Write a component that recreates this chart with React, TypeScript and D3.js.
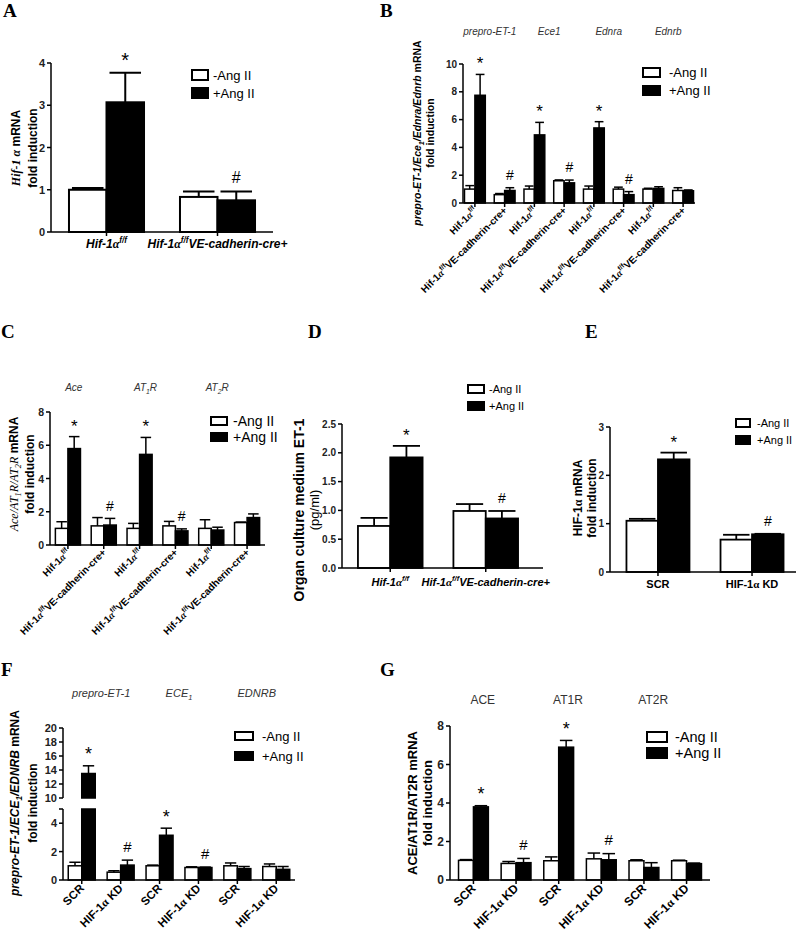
import React from 'react';
import * as d3 from 'd3';

const SANS = '"Liberation Sans", Arial, Helvetica, sans-serif';
const SERIF = '"Liberation Serif", "Times New Roman", serif';

// ---------- data ----------
const legendLabels = ['-Ang II', '+Ang II'];

// A: Hif-1α mRNA
const aGroups = ['ff', 'cre'];
const aControl = [1.0, 0.83];
const aControlErr = [0.04, 0.13];
const aAngII = [3.07, 0.75];
const aAngIIErr = [0.7, 0.21];
const aTicks = [0, 1, 2, 3, 4];
const aStars = [0];
const aHashes = [1];

// B: endothelin system genes
const bGroups = ['ff', 'cre', 'ff', 'cre', 'ff', 'cre', 'ff', 'cre'];
const bGenes = ['prepro-ET-1', 'Ece1', 'Ednra', 'Ednrb'];
const bControl = [1.0, 0.6, 1.0, 1.6, 1.0, 1.0, 1.0, 0.9];
const bControlErr = [0.25, 0.08, 0.22, 0.06, 0.22, 0.14, 0.06, 0.2];
const bAngII = [7.75, 0.9, 4.9, 1.45, 5.4, 0.6, 1.05, 0.88];
const bAngIIErr = [1.5, 0.2, 0.9, 0.2, 0.45, 0.22, 0.12, 0.06];
const bTicks = [0, 2, 4, 6, 8, 10];
const bStars = [0, 2, 4];
const bHashes = [1, 3, 5];

// C: renin-angiotensin genes
const cGroups = ['ff', 'cre', 'ff', 'cre', 'ff', 'cre'];
const cGenes = ['Ace', 'AT1R', 'AT2R'];
const cControl = [1.0, 1.15, 1.0, 1.15, 1.0, 1.35];
const cControlErr = [0.4, 0.5, 0.3, 0.27, 0.52, 0.03];
const cAngII = [5.8, 1.2, 5.45, 0.85, 0.9, 1.65];
const cAngIIErr = [0.72, 0.4, 1.02, 0.12, 0.17, 0.22];
const cTicks = [0, 2, 4, 6, 8];
const cStars = [0, 2];
const cHashes = [1, 3];

// D: organ culture ET-1
const dGroups = ['ff', 'cre'];
const dControl = [0.73, 0.99];
const dControlErr = [0.14, 0.12];
const dAngII = [1.92, 0.86];
const dAngIIErr = [0.2, 0.13];
const dTicks = [0, 0.5, 1, 1.5, 2, 2.5];
const dStars = [0];
const dHashes = [1];

// E: HIF-1α knockdown
const eGroups = ['SCR', 'KD'];
const eControl = [1.06, 0.67];
const eControlErr = [0.04, 0.1];
const eAngII = [2.33, 0.78];
const eAngIIErr = [0.14, 0.01];
const eTicks = [0, 1, 2, 3];
const eStars = [0];
const eHashes = [1];

// F: knockdown, endothelin genes (broken axis)
const fGroups = ['SCR', 'KD', 'SCR', 'KD', 'SCR', 'KD'];
const fGenes = ['prepro-ET-1', 'ECE1', 'EDNRB'];
const fControl = [1.0, 0.55, 1.0, 0.88, 1.0, 0.95];
const fControlErr = [0.25, 0.1, 0.05, 0.05, 0.2, 0.18];
const fAngII = [13.5, 1.05, 3.15, 0.88, 0.8, 0.75];
const fAngIIErr = [1.1, 0.35, 0.5, 0.03, 0.15, 0.2];
const fTicksLow = [0, 2, 4];
const fTicksHigh = [10, 12, 14, 16, 18, 20];
const fStars = [0, 2];
const fHashes = [1, 3];

// G: knockdown, RAS genes
const gGroups = ['SCR', 'KD', 'SCR', 'KD', 'SCR', 'KD'];
const gGenes = ['ACE', 'AT1R', 'AT2R'];
const gControl = [1.02, 0.86, 1.0, 1.1, 1.0, 1.0];
const gControlErr = [0.04, 0.1, 0.2, 0.3, 0.05, 0.03];
const gAngII = [3.8, 0.9, 6.9, 1.05, 0.65, 0.85];
const gAngIIErr = [0.06, 0.22, 0.35, 0.32, 0.25, 0.03];
const gTicks = [0, 2, 4, 6, 8];
const gStars = [0, 2];
const gHashes = [1, 3];

// ---------- text helpers ----------
type Seg = { t: string; it?: boolean; serif?: boolean; sup?: boolean; sub?: boolean; light?: boolean };

function Rich({ segs, size }: { segs: Seg[]; size: number }) {
  let shift = 0;
  return (
    <>
      {segs.map((s, i) => {
        const target = s.sup ? -size * 0.42 : s.sub ? size * 0.25 : 0;
        const dy = target - shift;
        shift = target;
        return (
          <tspan
            key={i}
            dy={dy}
            fontSize={s.sup || s.sub ? size * 0.68 : size}
            fontStyle={s.it ? 'italic' : 'normal'}
            fontWeight={s.light ? 'normal' : 'bold'}
            fontFamily={s.serif ? SERIF : SANS}
          >
            {s.t}
          </tspan>
        );
      })}
    </>
  );
}

function catSegs(key: string, it: boolean): Seg[] {
  const hif: Seg[] = [{ t: 'Hif-1', it }, { t: 'α', it: true, serif: true }, { t: 'f/f', it, sup: true }];
  if (key === 'ff') return hif;
  if (key === 'cre') return [...hif, { t: 'VE-cadherin-cre+', it }];
  if (key === 'KD') return [{ t: 'HIF-1' }, { t: 'α', serif: true }, { t: ' KD' }];
  return [{ t: key }];
}

// digits following a letter become subscripts when sub = true
function geneSegs(name: string, sub: boolean, it: boolean): Seg[] {
  if (!sub) return [{ t: name, it, light: true }];
  return name.split(/(?<=[A-Za-z])(\d)/).filter(s => s !== '').map((t, i, arr) => ({
    t, it, light: true, sub: /^\d$/.test(t) && i > 0 && /[A-Za-z]$/.test(arr[i - 1]),
  }));
}

function YLabel({ x, y, segs, size }: { x: number; y: number; segs: Seg[]; size: number }) {
  return (
    <text transform={`translate(${x},${y}) rotate(-90)`} textAnchor="middle">
      <Rich segs={segs} size={size} />
    </text>
  );
}

function Letter({ x, y, t }: { x: number; y: number; t: string }) {
  return <text x={x} y={y} fontFamily={SERIF} fontWeight="bold" fontSize={19}>{t}</text>;
}

function Legend({ x, y, w, h, gap, size, tx }: { x: number; y: number; w: number; h: number; gap: number; size: number; tx: number }) {
  return (
    <g fontFamily={SANS} fontSize={size}>
      <rect x={x} y={y} width={w} height={h} fill="white" stroke="black" strokeWidth={2} />
      <rect x={x} y={y + gap} width={w} height={h} fill="black" stroke="black" strokeWidth={2} />
      <text x={tx} y={y + h / 2} dominantBaseline="central">{legendLabels[0]}</text>
      <text x={tx} y={y + gap + h / 2} dominantBaseline="central">{legendLabels[1]}</text>
    </g>
  );
}

// ---------- bar panel ----------
interface Axis { domain: [number, number]; range: [number, number]; ticks: number[] }

interface PanelProps {
  groups: string[];
  control: number[]; controlErr: number[];
  angII: number[]; angIIErr: number[];
  stars: number[]; hashes: number[];
  axes: Axis[];
  fmt?: (v: number) => string;
  xRange: [number, number];
  axisEnd?: number;
  padIn: number; padOut: number;
  sw: number; tickFont: number; starSize: number; hashSize: number;
  xLabel: (key: string, cx: number) => React.ReactNode;
  genes?: string[]; geneY?: number; geneDx?: number; geneSize?: number; geneSub?: boolean; geneIt?: boolean;
}

function BarPanel(p: PanelProps) {
  const x = d3.scaleBand<number>()
    .domain(d3.range(p.groups.length))
    .range(p.xRange)
    .paddingInner(p.padIn)
    .paddingOuter(p.padOut);
  const bw = x.bandwidth() / 2;
  const ys = p.axes.map(a => d3.scaleLinear().domain(a.domain).range(a.range));
  const x0 = p.xRange[0];
  const yBase = p.axes[0].range[0];
  const fmt = p.fmt ?? d3.format('d');
  const segFor = (v: number) => {
    const k = p.axes.findIndex(a => v >= a.domain[0] && v <= a.domain[1]);
    return k < 0 ? 0 : k;
  };
  const yOf = (v: number) => ys[segFor(v)](v);
  const series = [
    { vals: p.control, errs: p.controlErr, fill: 'white', off: 0 },
    { vals: p.angII, errs: p.angIIErr, fill: 'black', off: bw },
  ];
  const blackX = (i: number) => x(i)! + bw * 1.5;

  return (
    <g>
      {/* bars */}
      {series.map((s, si) => s.vals.map((v, i) => (
        <g key={`b${si}-${i}`}>
          {p.axes.map((a, k) => {
            if (v <= a.domain[0]) return null;
            const top = Math.min(v, a.domain[1]);
            return (
              <rect key={k} x={x(i)! + s.off} y={ys[k](top)} width={bw} height={ys[k](a.domain[0]) - ys[k](top)}
                fill={s.fill} stroke="black" strokeWidth={p.sw} />
            );
          })}
        </g>
      )))}
      {/* error bars */}
      {series.map((s, si) => s.vals.map((v, i) => {
        const cx = x(i)! + s.off + bw / 2;
        const e = s.errs[i];
        const cap = bw * 0.42;
        return (
          <g key={`e${si}-${i}`} stroke="black" strokeWidth={p.sw}>
            <line x1={cx} x2={cx} y1={yOf(v)} y2={yOf(v + e)} />
            <line x1={cx - cap} x2={cx + cap} y1={yOf(v + e)} y2={yOf(v + e)} />
          </g>
        );
      }))}
      {/* significance marks */}
      {p.stars.map(i => (
        <text key={`s${i}`} x={blackX(i)} y={yOf(p.angII[i] + p.angIIErr[i]) - p.starSize * 0.3}
          textAnchor="middle" fontFamily={SANS} fontSize={p.starSize}>*</text>
      ))}
      {p.hashes.map(i => (
        <text key={`h${i}`} x={blackX(i)} y={yOf(p.angII[i] + p.angIIErr[i]) - p.hashSize * 0.55}
          textAnchor="middle" fontFamily={SANS} fontSize={p.hashSize}>#</text>
      ))}
      {/* y axis */}
      {p.axes.map((a, k) => (
        <g key={`ax${k}`} stroke="black" strokeWidth={1.5}>
          <line x1={x0} x2={x0} y1={a.range[0]} y2={a.range[1]} />
          {a.ticks.map(t => <line key={t} x1={x0 - 4} x2={x0} y1={ys[k](t)} y2={ys[k](t)} />)}
          {k < p.axes.length - 1 && <line x1={x0 - 4} x2={x0} y1={a.range[1]} y2={a.range[1]} />}
          {a.ticks.map(t => (
            <text key={`l${t}`} x={x0 - 6} y={ys[k](t)} textAnchor="end" dominantBaseline="central" stroke="none"
              fontFamily={SANS} fontWeight="bold" fontSize={p.tickFont} fill="#222">{fmt(t)}</text>
          ))}
        </g>
      ))}
      {/* x axis */}
      <line x1={x0} x2={p.axisEnd ?? p.xRange[1]} y1={yBase} y2={yBase} stroke="black" strokeWidth={1.5} />
      {p.groups.map((g, i) => {
        const cx = x(i)! + bw;
        return (
          <g key={`x${i}`}>
            <line x1={cx} x2={cx} y1={yBase} y2={yBase + 4} stroke="black" strokeWidth={1.5} />
            {p.xLabel(g, cx)}
          </g>
        );
      })}
      {/* gene headers */}
      {p.genes && p.genes.map((g, k) => {
        const cx = (x(2 * k)! + x(2 * k + 1)! + 2 * bw) / 2 + (p.geneDx ?? 0);
        return (
          <text key={`g${k}`} x={cx} y={p.geneY} textAnchor="middle" fill="#333">
            <Rich segs={geneSegs(g, !!p.geneSub, !!p.geneIt)} size={p.geneSize ?? 10} />
          </text>
        );
      })}
    </g>
  );
}

const rotLabel = (y: number, size: number, it: boolean) => (key: string, cx: number) => (
  <text transform={`translate(${cx + 3},${y}) rotate(-45)`} textAnchor="end">
    <Rich segs={catSegs(key, it)} size={size} />
  </text>
);

const flatLabel = (y: number, size: number, it: boolean) => (key: string, cx: number) => (
  <text x={cx} y={y} textAnchor="middle">
    <Rich segs={catSegs(key, it)} size={size} />
  </text>
);

export default function App() {
  return (
    <svg width={800} height={936} viewBox="0 0 800 936"
      style={{ position: 'absolute', left: 0, top: 0, background: 'white' }}>
      <rect width={800} height={936} fill="white" />

      {/* ---- A ---- */}
      <Letter x={3} y={17} t="A" />
      <BarPanel groups={aGroups} control={aControl} controlErr={aControlErr} angII={aAngII} angIIErr={aAngIIErr}
        stars={aStars} hashes={aHashes}
        axes={[{ domain: [0, 4], range: [232, 63], ticks: aTicks }]}
        xRange={[51, 273]} padIn={0.324} padOut={0.162} sw={2} tickFont={11} starSize={20} hashSize={16}
        xLabel={flatLabel(248, 12, true)} />
      <YLabel x={20} y={148} size={12} segs={[{ t: 'Hif-1 α', it: true, serif: true }, { t: ' mRNA' }]} />
      <YLabel x={37} y={148} size={12} segs={[{ t: 'fold induction' }]} />
      <Legend x={192} y={70} w={16} h={10} gap={18} size={13} tx={213} />

      {/* ---- B ---- */}
      <Letter x={380} y={17} t="B" />
      <BarPanel groups={bGroups} control={bControl} controlErr={bControlErr} angII={bAngII} angIIErr={bAngIIErr}
        stars={bStars} hashes={bHashes}
        axes={[{ domain: [0, 10], range: [203, 64], ticks: bTicks }]}
        xRange={[463, 695]} padIn={0.3} padOut={0.05} sw={1.5} tickFont={10} starSize={17} hashSize={14}
        xLabel={rotLabel(211, 10, false)}
        genes={bGenes} geneY={35} geneSize={10} geneIt />
      <YLabel x={421} y={133} size={10.5}
        segs={[{ t: 'prepro-ET-1/Ece', it: true }, { t: '1', it: true, sub: true }, { t: '/Ednra/Ednrb', it: true }, { t: ' mRNA' }]} />
      <YLabel x={434} y={133} size={10.5} segs={[{ t: 'fold induction' }]} />
      <Legend x={643} y={68} w={17} h={9} gap={18} size={13} tx={669} />

      {/* ---- C ---- */}
      <Letter x={1} y={338} t="C" />
      <BarPanel groups={cGroups} control={cControl} controlErr={cControlErr} angII={cAngII} angIIErr={cAngIIErr}
        stars={cStars} hashes={cHashes}
        axes={[{ domain: [0, 8], range: [545, 412], ticks: cTicks }]}
        xRange={[50, 265]} padIn={0.3} padOut={0.15} sw={1.5} tickFont={10.5} starSize={17} hashSize={14}
        xLabel={rotLabel(553, 10, false)}
        genes={cGenes} geneY={391} geneDx={-12} geneSize={10} geneSub geneIt />
      <YLabel x={18} y={474} size={12}
        segs={[{ t: 'Ace/AT', it: true, serif: true, light: true }, { t: '1', it: true, serif: true, light: true, sub: true },
          { t: 'R/AT', it: true, serif: true, light: true }, { t: '2', it: true, serif: true, light: true, sub: true },
          { t: 'R', it: true, serif: true, light: true }, { t: ' mRNA' }]} />
      <YLabel x={34} y={474} size={12} segs={[{ t: 'fold induction' }]} />
      <Legend x={211} y={417} w={16} h={8} gap={16} size={14} tx={233} />

      {/* ---- D ---- */}
      <Letter x={308} y={338} t="D" />
      <BarPanel groups={dGroups} control={dControl} controlErr={dControlErr} angII={dAngII} angIIErr={dAngIIErr}
        stars={dStars} hashes={dHashes}
        axes={[{ domain: [0, 2.5], range: [568, 424], ticks: dTicks }]}
        fmt={d3.format('.1f')}
        xRange={[342, 534]} axisEnd={543} padIn={0.323} padOut={0.167} sw={1.8} tickFont={10} starSize={17} hashSize={14}
        xLabel={flatLabel(586, 11, true)} />
      <YLabel x={304} y={510} size={14} segs={[{ t: 'Organ culture medium ET-1' }]} />
      <YLabel x={319} y={510} size={13} segs={[{ t: '(pg/ml)', light: true }]} />
      <Legend x={468} y={385} w={16} h={8} gap={17} size={11} tx={489} />

      {/* ---- E ---- */}
      <Letter x={585} y={338} t="E" />
      <BarPanel groups={eGroups} control={eControl} controlErr={eControlErr} angII={eAngII} angIIErr={eAngIIErr}
        stars={eStars} hashes={eHashes}
        axes={[{ domain: [0, 3], range: [572, 427], ticks: eTicks }]}
        xRange={[610, 800]} axisEnd={796} padIn={0.33} padOut={0.175} sw={1.8} tickFont={10} starSize={17} hashSize={14}
        xLabel={flatLabel(588, 11, false)} />
      <YLabel x={582} y={498} size={12} segs={[{ t: 'HIF-1' }, { t: 'α', serif: true }, { t: ' mRNA' }]} />
      <YLabel x={596} y={498} size={12} segs={[{ t: 'fold induction' }]} />
      <Legend x={736} y={419} w={14} h={8} gap={17} size={11} tx={757} />

      {/* ---- F ---- */}
      <Letter x={1} y={676} t="F" />
      <BarPanel groups={fGroups} control={fControl} controlErr={fControlErr} angII={fAngII} angIIErr={fAngIIErr}
        stars={fStars} hashes={fHashes}
        axes={[
          { domain: [0, 5], range: [880, 809], ticks: fTicksLow },
          { domain: [10, 20], range: [798, 728], ticks: fTicksHigh },
        ]}
        xRange={[63, 295]} padIn={0.306} padOut={0.135} sw={1.5} tickFont={11} starSize={18} hashSize={15}
        xLabel={rotLabel(889, 11.5, false)}
        genes={fGenes} geneY={697} geneSize={11} geneSub geneIt />
      <YLabel x={19} y={803} size={12}
        segs={[{ t: 'prepro-ET-1/ECE', it: true }, { t: '1', it: true, sub: true }, { t: '/EDNRB', it: true }, { t: ' mRNA' }]} />
      <YLabel x={37} y={803} size={12} segs={[{ t: 'fold induction' }]} />
      <Legend x={235} y={732} w={18} h={8} gap={20} size={13} tx={262} />

      {/* ---- G ---- */}
      <Letter x={380} y={676} t="G" />
      <BarPanel groups={gGroups} control={gControl} controlErr={gControlErr} angII={gAngII} angIIErr={gAngIIErr}
        stars={gStars} hashes={gHashes}
        axes={[{ domain: [0, 8], range: [880, 726], ticks: gTicks }]}
        xRange={[450, 710]} padIn={0.3} padOut={0.2} sw={1.5} tickFont={12} starSize={18} hashSize={15}
        xLabel={rotLabel(889, 12, false)}
        genes={gGenes} geneY={704} geneDx={-12} geneSize={12} />
      <YLabel x={417} y={803} size={13} segs={[{ t: 'ACE/AT1R/AT2R mRNA' }]} />
      <YLabel x={432} y={803} size={13} segs={[{ t: 'fold induction' }]} />
      <Legend x={647} y={732} w={20} h={10} gap={16} size={14.5} tx={675} />
    </svg>
  );
}
